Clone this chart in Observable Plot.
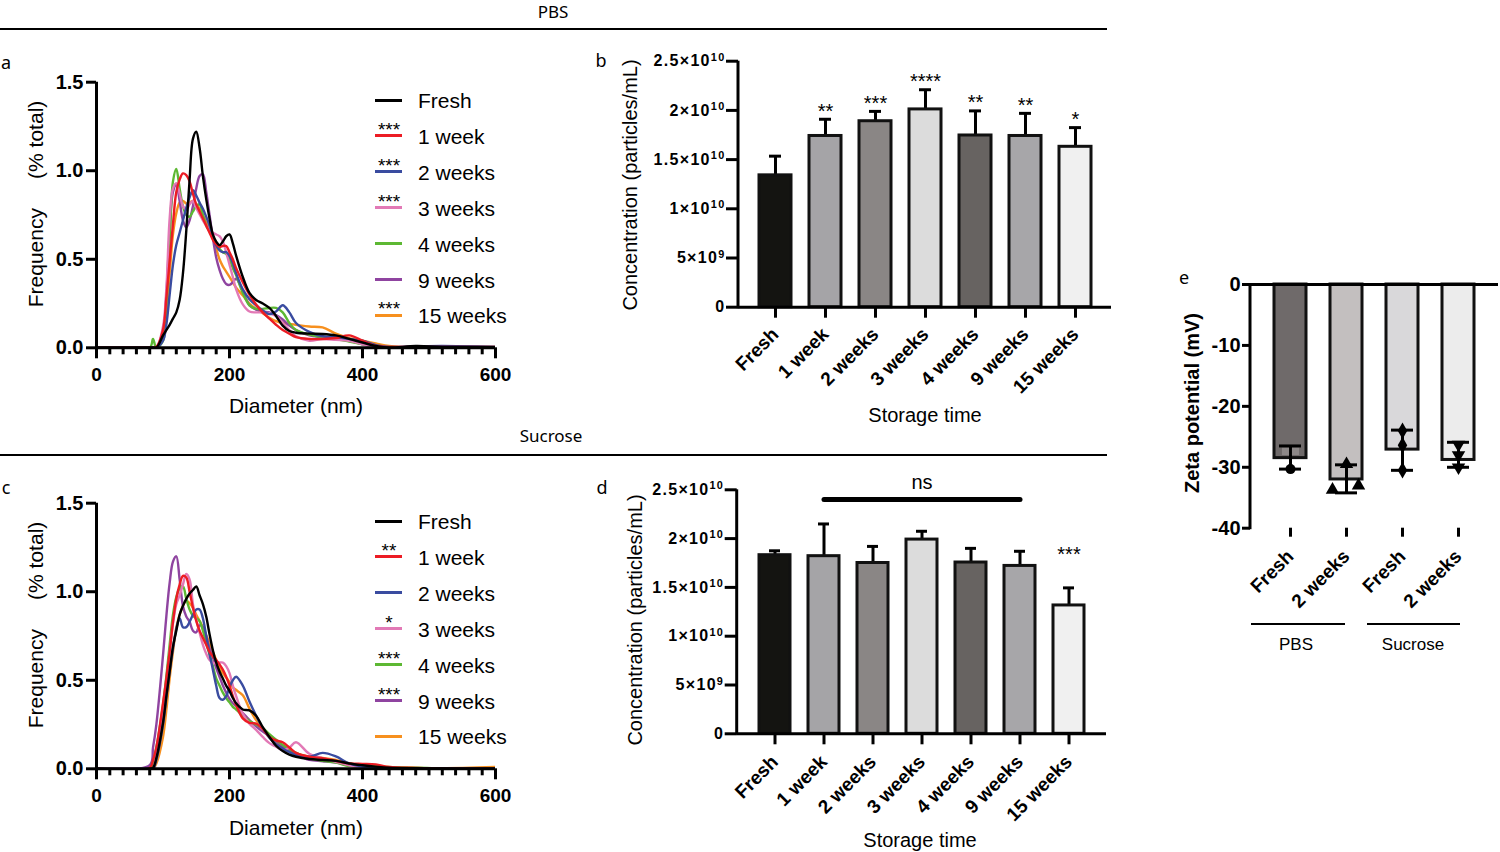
<!DOCTYPE html>
<html><head><meta charset="utf-8">
<script src="https://cdn.jsdelivr.net/npm/d3@7"></script>
<script src="https://cdn.jsdelivr.net/npm/@observablehq/plot@0.6"></script>
<style>
body{margin:0;background:#fff;}
#fig{position:relative;width:1500px;height:852px;overflow:hidden;font-family:"Liberation Sans",Arial,Helvetica,sans-serif;color:#000;background:#fff}
.abs{position:absolute;white-space:pre;line-height:1}
</style></head><body><div id="fig"></div><script>
// ---------------- DATA ----------------
const lineSeries = ["Fresh","1 week","2 weeks","3 weeks","4 weeks","9 weeks","15 weeks"];
const lineColors = ["#000000","#ec1c24","#3a4ca0","#e279b6","#5db833","#8f44a0","#f7901e"];
const starsA = ["","***","***","***","","","***"];
const starsC = ["","**","","*","***","***",""];
const sizeGrid = [0,80,85,90,100,105,110,115,120,125,130,135,140,145,150,155,160,165,170,175,180,185,190,195,200,205,210,220,230,240,250,260,270,280,290,300,320,340,360,380,400,420,440,480,520,600];
const diamTicks = [0,200,400,600];
const diamMinor = [20,40,60,80,100,120,140,160,180,220,240,260,280,300,320,340,360,380,420,440,460,480,500,520,540,560,580];
const freqTicks = [0,0.5,1.0,1.5];

// PBS size distributions (panel a)
const aFresh = [0,0,0,0, 0.07,0.1,0.13,0.165,0.2,0.27,0.42,0.66,0.95,1.18,1.22,1.13,0.97,0.84,0.73,0.64,0.6,0.58,0.6,0.63,0.64,0.59,0.52, 0.4,0.31,0.27,0.25,0.225,0.18,0.125,0.095,0.085, 0.08,0.078,0.07,0.05,0.03,0.01,0, 0.01,0.005,0.005];
const a1w = [0,0,0,0.005, 0.1,0.28,0.49,0.7,0.88,0.95,0.985,0.975,0.94,0.87,0.81,0.77,0.73,0.69,0.65,0.61,0.585,0.57,0.575,0.575,0.54,0.5,0.45, 0.37,0.3,0.245,0.2,0.165,0.13,0.1,0.08,0.06, 0.05,0.05,0.055,0.07,0.04,0.01,0.005, 0.005,0.005,0.005];
const a2w = [0,0,0,0, 0.04,0.13,0.3,0.47,0.58,0.65,0.72,0.79,0.85,0.89,0.86,0.82,0.785,0.74,0.69,0.63,0.58,0.55,0.54,0.54,0.52,0.48,0.42, 0.33,0.275,0.24,0.21,0.19,0.205,0.24,0.2,0.14, 0.09,0.065,0.06,0.05,0.04,0.015,0.005, 0.008,0.01,0.005];
const a3w = [0,0,0,0, 0.12,0.33,0.73,0.9,0.93,0.87,0.8,0.78,0.81,0.83,0.79,0.755,0.72,0.69,0.665,0.65,0.64,0.63,0.6,0.54,0.47,0.4,0.33, 0.245,0.205,0.2,0.2,0.195,0.18,0.14,0.1,0.065, 0.04,0.05,0.045,0.04,0.02,0.005,0, 0,0,0];
const a4w = [0,0,0.05,0, 0.04,0.25,0.6,0.94,1.01,0.9,0.8,0.75,0.74,0.77,0.8,0.81,0.75,0.69,0.66,0.63,0.59,0.56,0.54,0.53,0.5,0.45,0.41, 0.31,0.24,0.22,0.22,0.225,0.225,0.2,0.14,0.1, 0.075,0.06,0.05,0.035,0.02,0.005,0, 0,0,0];
const a9w = [0,0,0,0, 0.08,0.3,0.65,0.88,0.92,0.83,0.72,0.68,0.72,0.8,0.9,0.97,0.98,0.88,0.75,0.62,0.51,0.44,0.39,0.36,0.355,0.37,0.39, 0.32,0.24,0.215,0.205,0.2,0.185,0.16,0.125,0.1, 0.07,0.06,0.05,0.04,0.02,0.005,0, 0,0,0];
const a15w = [0,0,0,0, 0.06,0.2,0.42,0.64,0.76,0.82,0.83,0.815,0.82,0.83,0.81,0.785,0.75,0.71,0.67,0.62,0.56,0.5,0.46,0.43,0.4,0.37,0.34, 0.295,0.25,0.22,0.195,0.17,0.15,0.14,0.135,0.13, 0.12,0.115,0.08,0.055,0.04,0.025,0.01, 0,0,0];

// Sucrose size distributions (panel c)
const cFresh = [0,0,0.005,0.06, 0.26,0.41,0.55,0.69,0.78,0.87,0.92,0.96,0.99,1.01,1.03,0.98,0.93,0.86,0.76,0.67,0.6,0.55,0.51,0.47,0.44,0.4,0.37, 0.335,0.33,0.3,0.235,0.18,0.13,0.1,0.08,0.068, 0.055,0.05,0.045,0.03,0.02,0.012,0.006, 0.003,0.002,0];
const c1w = [0,0.005,0.05,0.12, 0.37,0.51,0.66,0.83,0.96,1.04,1.09,1.08,1.0,0.91,0.835,0.78,0.74,0.7,0.66,0.635,0.615,0.59,0.56,0.52,0.47,0.41,0.36, 0.285,0.26,0.255,0.225,0.18,0.16,0.15,0.12,0.09, 0.068,0.06,0.045,0.03,0.028,0.025,0.01, 0.005,0.002,0];
const c2w = [0,0,0,0.05, 0.25,0.4,0.55,0.68,0.79,0.85,0.8,0.8,0.83,0.87,0.9,0.9,0.85,0.75,0.65,0.56,0.47,0.4,0.39,0.41,0.46,0.5,0.52, 0.47,0.38,0.3,0.23,0.175,0.14,0.115,0.095,0.08, 0.068,0.09,0.07,0.03,0.012,0.006,0.004, 0.003,0.004,0];
const c3w = [0,0,0,0.08, 0.31,0.47,0.66,0.82,0.93,0.98,1.04,1.1,1.07,0.93,0.84,0.77,0.7,0.65,0.615,0.6,0.595,0.6,0.6,0.58,0.54,0.47,0.41, 0.31,0.255,0.22,0.18,0.145,0.125,0.105,0.12,0.15, 0.085,0.06,0.04,0.02,0.01,0.005,0.003, 0.002,0.002,0];
const c4w = [0,0,0.04,0.12, 0.36,0.52,0.7,0.87,0.97,1.02,1.03,0.96,0.9,0.865,0.85,0.835,0.78,0.71,0.645,0.58,0.51,0.47,0.43,0.4,0.375,0.35,0.335, 0.3,0.27,0.25,0.23,0.195,0.165,0.135,0.11,0.09, 0.06,0.045,0.035,0.015,0.012,0.01,0.008, 0.006,0.002,0];
const c9w = [0,0.02,0.12,0.25, 0.64,0.86,1.05,1.17,1.2,1.07,0.92,0.86,0.83,0.78,0.77,0.81,0.8,0.75,0.68,0.63,0.57,0.52,0.47,0.43,0.395,0.37,0.355, 0.315,0.275,0.24,0.21,0.185,0.16,0.13,0.1,0.08, 0.05,0.043,0.035,0.02,0.01,0.005,0.003, 0.002,0.001,0];
const c15w = [0,0,0,0.03, 0.18,0.33,0.51,0.66,0.8,0.87,0.92,0.95,0.935,0.91,0.87,0.835,0.8,0.755,0.71,0.66,0.615,0.57,0.54,0.515,0.49,0.46,0.445, 0.415,0.34,0.275,0.23,0.185,0.15,0.125,0.1,0.088, 0.068,0.062,0.05,0.03,0.022,0.018,0.01, 0.005,0.003,0.01];

// Concentration bars (panels b and d)
const storageCats = ["Fresh","1 week","2 weeks","3 weeks","4 weeks","9 weeks","15 weeks"];
const storageFills = ["#141411","#a5a4a7","#8a8685","#dcdcdc","#676361","#a7a6a9","#f0f0f0"];
const concTicks = [0,5e9,1e10,1.5e10,2e10,2.5e10];
const concTickLabels = ["0","5×10^9","1×10^10","1.5×10^10","2×10^10","2.5×10^10"];
const bMean = [1.34e10,1.74e10,1.89e10,2.01e10,1.745e10,1.74e10,1.63e10];
const bHigh = [1.535e10,1.91e10,1.99e10,2.21e10,1.995e10,1.97e10,1.825e10];
const bStars = ["","**","***","****","**","**","*"];
const dMean = [1.83e10,1.82e10,1.75e10,1.99e10,1.755e10,1.72e10,1.315e10];
const dHigh = [1.875e10,2.15e10,1.92e10,2.075e10,1.90e10,1.87e10,1.495e10];
const dStars = ["","","","","","","***"];
const nsFrom = "1 week", nsTo = "9 weeks", nsMid = "3 weeks", nsLevel = 2.40e10;

// Zeta potential (panel e)
const zetaCats = ["PBS Fresh","PBS 2 weeks","Sucrose Fresh","Sucrose 2 weeks"];
const zetaFills = ["#6f6a6a","#c3bfbf","#d9d8da","#ececec"];
const zetaMean = [-28.5,-32.0,-27.1,-28.8];
const zetaLow = [-30.3,-34.2,-30.5,-30.0];
const zetaHigh = [-26.5,-29.6,-23.9,-25.9];
const zetaTicks = [0,-10,-20,-30,-40];
const zetaPtCat = ["PBS Fresh","PBS Fresh","PBS Fresh","PBS 2 weeks","PBS 2 weeks","PBS 2 weeks","Sucrose Fresh","Sucrose Fresh","Sucrose Fresh","Sucrose 2 weeks","Sucrose 2 weeks","Sucrose 2 weeks"];
const zetaPtVal = [-27.4,-27.4,-30.3,-29.5,-33.7,-33.0,-24.0,-26.4,-30.5,-26.3,-28.0,-30.0];
const zetaPtSym = ["square","square","circle","triangle","triangle","triangle","diamond","diamond","diamond","down","down","down"];
const zetaPtOff = [-5,5,0,0,-14,12,0,0,0,0,0,0];

// ---------------- DRAWING ----------------
const fig = document.getElementById("fig");
const FONT = '"Liberation Sans", Arial, Helvetica, sans-serif';
const HEAD = '"Noto Sans", "Open Sans", sans-serif';
const svgStyle = {fontFamily: FONT, background: "transparent", overflow: "visible", maxWidth: "none"};

function label(text, x, y, o = {}) {
  const d = document.createElement("div");
  d.className = "abs";
  d.textContent = text;
  Object.assign(d.style, {
    left: x + "px", top: y + "px", fontSize: (o.size || 20) + "px",
    fontWeight: o.weight || "normal", fontFamily: o.family || FONT,
    transform: `translate(${o.ax ?? -50}%, -50%)` + (o.rot ? ` rotate(${o.rot}deg)` : "")
  });
  fig.appendChild(d);
}
function hline(x1, x2, y, w) {
  const d = document.createElement("div");
  d.className = "abs";
  Object.assign(d.style, {left: x1 + "px", top: (y - w / 2) + "px", width: (x2 - x1) + "px", height: w + "px", background: "#000"});
  fig.appendChild(d);
}
function mount(svg, x, y) {
  const w = document.createElement("div");
  w.className = "abs";
  w.style.left = x + "px"; w.style.top = y + "px";
  w.appendChild(svg);
  fig.appendChild(w);
}
function yAxisLine(svg, xPix) {
  const r = svg.scale("y").range;
  d3.select(svg).append("line")
    .attr("x1", xPix).attr("x2", xPix)
    .attr("y1", Math.max(r[0], r[1]) + 1.5).attr("y2", Math.min(r[0], r[1]))
    .attr("stroke", "#000").attr("stroke-width", 3);
}
function superscripts(svg) {
  d3.select(svg).selectAll("text").each(function () {
    const t = this.textContent;
    if (t.includes("^")) {
      const [b, e] = t.split("^");
      this.textContent = b;
      d3.select(this).append("tspan").attr("dy", "-0.5em").attr("font-size", "0.68em").text(e);
    }
  });
}

// ---- size distribution panels ----
function linePanel(vals, left, top) {
  const rows = [];
  for (let i = lineSeries.length - 1; i >= 0; i--) {
    sizeGrid.forEach((x, j) => rows.push({s: lineSeries[i], x, y: vals[i][j]}));
  }
  const svg = Plot.plot({
    width: 520, height: 360, marginLeft: 96, marginRight: 25, marginTop: 21.7, marginBottom: 72.7,
    style: svgStyle,
    x: {domain: [0, 600]},
    y: {domain: [0, 1.5]},
    color: {domain: lineSeries, range: lineColors},
    marks: [
      Plot.line(rows, {x: "x", y: "y", z: "s", stroke: "s", strokeWidth: 2.4, curve: "catmull-rom", clip: true}),
      Plot.ruleX([0], {strokeWidth: 3}),
      Plot.ruleY([0], {strokeWidth: 3}),
      Plot.axisX({ticks: diamMinor, tickSize: 7, strokeWidth: 3, fill: "none", label: null}),
      Plot.axisX({ticks: diamTicks, tickSize: 11, strokeWidth: 3, tickPadding: 9, fontSize: 19, fontWeight: "bold", label: null}),
      Plot.axisY({ticks: freqTicks, tickSize: 10, strokeWidth: 3, tickPadding: 3, fontSize: 20, fontWeight: "bold", tickFormat: d3.format(".1f"), label: null})
    ]
  });
  mount(svg, left, top);
}
function legend(y0, stars) {
  lineSeries.forEach((s, i) => {
    const y = y0 + i * 35.9;
    const sw = document.createElement("div");
    sw.className = "abs";
    Object.assign(sw.style, {left: "375px", top: (y - 1.5) + "px", width: "27px", height: "3px", background: lineColors[i]});
    fig.appendChild(sw);
    label(s, 418, y, {size: 21, ax: 0});
    if (stars[i]) label(stars[i], 389, y - 7, {size: 19});
  });
}

linePanel([aFresh, a1w, a2w, a3w, a4w, a9w, a15w], 0, 60);
linePanel([cFresh, c1w, c2w, c3w, c4w, c9w, c15w], 0, 481);
legend(100, starsA);
legend(521, starsC);
label("Frequency     (% total)", 35, 204, {size: 21, rot: -90});
label("Diameter (nm)", 296, 405, {size: 21});
label("Frequency     (% total)", 35, 625, {size: 21, rot: -90});
label("Diameter (nm)", 296, 827, {size: 21});

// ---- concentration panels ----
function barPanel(means, highs, stars, o) {
  const rows = storageCats.map((c, i) => ({c, m: means[i], hi: highs[i], star: stars[i]}));
  const extra = o.extra || [];
  const svg = Plot.plot({
    width: 530, height: o.height, marginLeft: o.mL, marginRight: o.mR, marginTop: o.mT, marginBottom: o.mB,
    style: svgStyle,
    x: {domain: storageCats, paddingInner: 0.366, paddingOuter: 0.383},
    y: {domain: [0, 2.5e10]},
    color: {domain: storageCats, range: storageFills},
    marks: [
      Plot.ruleX(rows, {x: "c", y1: "m", y2: "hi", strokeWidth: 3}),
      Plot.tickY(rows, {x: "c", y: "hi", strokeWidth: 3, insetLeft: 10, insetRight: 10}),
      Plot.barY(rows, {x: "c", y: "m", fill: "c", stroke: "#111", strokeWidth: 3}),
      Plot.ruleY([0], {strokeWidth: 3}),
      Plot.axisY({ticks: concTicks, tickFormat: d => concTickLabels[concTicks.indexOf(d)], tickSize: 12, strokeWidth: 3, tickPadding: 1, fontSize: 16, fontWeight: "bold", label: null}),
      Plot.axisX({tickSize: 11, strokeWidth: 3, tickRotate: -45, tickPadding: o.xPad, fontSize: 19, fontWeight: "bold", label: null}),
      Plot.text(rows.filter(d => d.star), {x: "c", y: "hi", text: "star", dy: o.starDy, fontSize: 20}),
      ...extra
    ]
  });
  d3.select(svg).select('g[aria-label="y-axis tick label"]').attr("letter-spacing", "1.3");
  superscripts(svg);
  yAxisLine(svg, o.mL);
  mount(svg, o.left, o.top);
}

barPanel(bMean, bHigh, bStars, {left: 590, top: 40, height: 400, mL: 148, mR: 9, mT: 20.7, mB: 133.3, starDy: -8, xPad: 13});
barPanel(dMean, dHigh, dStars, {left: 590, top: 465, height: 387, mL: 146.7, mR: 14, mT: 24.3, mB: 118.7, starDy: -33, xPad: 14,
  extra: [
    Plot.line([{c: nsFrom, y: nsLevel}, {c: nsTo, y: nsLevel}], {x: "c", y: "y", strokeWidth: 5, strokeLinecap: "round"}),
    Plot.text([{c: nsMid, y: nsLevel}], {x: "c", y: "y", text: () => "ns", dy: -17, fontSize: 20})
  ]});
label("Concentration (particles/mL)", 630, 185, {size: 20, rot: -90});
label("Storage time", 925, 415, {size: 20});
label("Concentration (particles/mL)", 635, 620, {size: 20, rot: -90});
label("Storage time", 920, 840, {size: 20});

// ---- zeta potential panel ----
(function () {
  const rows = zetaCats.map((c, i) => ({c, m: zetaMean[i], lo: zetaLow[i], hi: zetaHigh[i]}));
  const pts = zetaPtCat.map((c, i) => ({c, v: zetaPtVal[i], sym: zetaPtSym[i], off: zetaPtOff[i]}));
  const triDown = {draw(ctx, size) {
    const y = -Math.sqrt(size / (Math.sqrt(3) * 3));
    ctx.moveTo(0, -y * 2); ctx.lineTo(-Math.sqrt(3) * y, y); ctx.lineTo(Math.sqrt(3) * y, y); ctx.closePath();
  }};
  const symMap = {square: "square", circle: "circle", triangle: "triangle", diamond: "diamond", down: triDown};
  const dotMarks = d3.groups(pts, d => d.sym + "|" + d.off).map(([, g]) =>
    Plot.dot(g, {x: "c", y: "v", symbol: symMap[g[0].sym], r: g[0].sym === "square" ? 4 : 5, dx: g[0].off,
      fill: g[0].sym === "square" ? "#8d8888" : "#000", stroke: "none"}));
  const svg = Plot.plot({
    width: 330, height: 400, marginLeft: 80, marginRight: 2, marginTop: 24, marginBottom: 132.3,
    style: svgStyle,
    x: {domain: zetaCats, paddingInner: 0.436, paddingOuter: 0.406},
    y: {domain: [-40, 0]},
    color: {domain: zetaCats, range: zetaFills},
    marks: [
      Plot.barY(rows, {x: "c", y: "m", fill: "c", stroke: "#111", strokeWidth: 3}),
      Plot.ruleX(rows, {x: "c", y1: "lo", y2: "hi", strokeWidth: 3}),
      Plot.tickY(rows, {x: "c", y: "lo", strokeWidth: 3, insetLeft: 5, insetRight: 5}),
      Plot.tickY(rows, {x: "c", y: "hi", strokeWidth: 3, insetLeft: 5, insetRight: 5}),
      ...dotMarks,
      Plot.ruleY([0], {strokeWidth: 3}),
      Plot.axisY({ticks: zetaTicks, tickFormat: d => String(d), tickSize: 8, strokeWidth: 3, tickPadding: 2, fontSize: 20, fontWeight: "bold", label: null}),
      Plot.axisX({tickSize: 9, strokeWidth: 3, tickRotate: -45, tickPadding: 16, fontSize: 19, fontWeight: "bold",
        tickFormat: d => d.replace(/^(PBS|Sucrose) /, ""), label: null})
    ]
  });
  yAxisLine(svg, 80);
  mount(svg, 1170, 260);
})();
label("Zeta potential (mV)", 1192, 403, {size: 20, weight: "bold", rot: -90});
hline(1251, 1345, 624, 1.5);
hline(1367, 1460, 624, 1.5);
label("PBS", 1296, 644, {size: 17});
label("Sucrose", 1413, 644, {size: 17});

// ---- headers & panel letters ----
label("PBS", 553, 11, {size: 17, family: HEAD});
hline(0, 1107, 29, 2.5);
label("Sucrose", 551, 435, {size: 17, family: HEAD});
hline(0, 1107, 455, 2.5);
label("a", 6, 62, {size: 18, family: HEAD});
label("b", 601, 60, {size: 18, family: HEAD});
label("c", 6, 487, {size: 18, family: HEAD});
label("d", 602, 487, {size: 18, family: HEAD});
label("e", 1184, 277, {size: 18, family: HEAD});
</script></body></html>
